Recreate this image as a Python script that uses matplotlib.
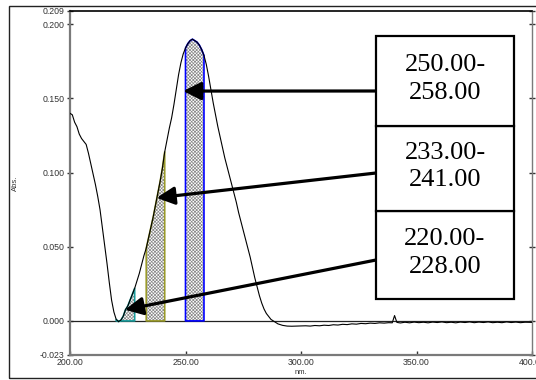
import matplotlib.pyplot as plt
from matplotlib.patches import Rectangle

# Espectro de absorbancia (nm, Abs.)
nm = [200, 201, 202, 203, 204, 205, 206, 207, 208, 209,
      210, 211, 212, 213, 214, 215, 216, 217, 218, 219,
      220, 221, 222, 223, 224, 225, 226, 227, 228, 229,
      230, 231, 232, 233, 234, 235, 236, 237, 238, 239,
      240, 241, 242, 243, 244, 245, 246, 247, 248, 249,
      250, 251, 252, 253, 254, 255, 256, 257, 258, 259,
      260, 261, 262, 263, 264, 265, 266, 267, 268, 269,
      270, 271, 272, 273, 274, 275, 276, 277, 278, 279,
      280, 281, 282, 283, 284, 285, 286, 287, 288, 290,
      292, 294, 296, 298, 300, 302, 304, 306, 308, 310,
      312, 314, 316, 318, 320, 322, 324, 326, 328, 330,
      332, 334, 336, 338, 339.5, 340.5, 341.5, 343, 345, 347,
      349, 351, 353, 355, 357, 359, 361, 363, 365, 367,
      369, 371, 373, 375, 377, 379, 381, 383, 385, 387,
      389, 391, 393, 395, 397, 400]
absorb = [0.140, 0.139, 0.134, 0.131, 0.126, 0.123, 0.121, 0.119, 0.113, 0.106,
          0.099, 0.092, 0.084, 0.075, 0.063, 0.051, 0.039, 0.026, 0.014, 0.006,
          0.001, -0.0005, 0.0005, 0.003, 0.0075, 0.010, 0.014, 0.018, 0.022, 0.027,
          0.032, 0.038, 0.044, 0.049, 0.056, 0.063, 0.070, 0.078, 0.086, 0.094,
          0.103, 0.114, 0.122, 0.130, 0.137, 0.146, 0.156, 0.166, 0.174, 0.180,
          0.184, 0.187, 0.189, 0.190, 0.189, 0.188, 0.186, 0.183, 0.179, 0.173,
          0.165, 0.156, 0.147, 0.139, 0.131, 0.124, 0.117, 0.110, 0.104, 0.098,
          0.092, 0.086, 0.080, 0.073, 0.067, 0.061, 0.055, 0.049, 0.043, 0.036,
          0.029, 0.023, 0.017, 0.012, 0.008, 0.005, 0.003, 0.001, 0.000, -0.002,
          -0.003, -0.0035, -0.0036, -0.0035, -0.0034, -0.0033, -0.0035, -0.0031, -0.0033, -0.0029,
          -0.0031, -0.0026, -0.0028, -0.0023, -0.0025, -0.0020, -0.0022, -0.0017, -0.0019, -0.0015,
          -0.0017, -0.0013, -0.0015, -0.0012, -0.0013, 0.0036, -0.0010, -0.0014, -0.0009, -0.0013,
          -0.0008, -0.0012, -0.0009, -0.0013, -0.0008, -0.0011, -0.0007, -0.0012, -0.0009, -0.0013,
          -0.0008, -0.0011, -0.0007, -0.0012, -0.0008, -0.0011, -0.0007, -0.0012, -0.0009, -0.0012,
          -0.0007, -0.0011, -0.0008, -0.0012, -0.0009, -0.0010]

# Bandas integradas (inicio, fin) y su color de contorno
bandas = [(220.0, 228.0), (233.0, 241.0), (250.0, 258.0)]
colores = ['#1a9c9c', '#9a9a2a', '#0000ff']

# Puntas de las flechas (nm, Abs.) y texto de cada recuadro
puntas = [(223.8, 0.0075), (237.5, 0.083), (249.0, 0.155)]
etiquetas = ['220.00-\n228.00', '233.00-\n241.00', '250.00-\n258.00']

plt.rcParams['font.family'] = ['Liberation Sans', 'DejaVu Sans']
plt.rcParams['hatch.linewidth'] = 0.5

W, H = 536, 380
fig = plt.figure(figsize=(W / 100, H / 100), dpi=100)
ax = fig.add_axes([70 / W, 1 - 355 / H, 462 / W, 344 / H])


def fx(px):
    return px / W


def fy(py):
    return 1 - py / H


# Marco exterior
fig.add_artist(Rectangle((fx(9), fy(378)), 1.2, (378 - 6) / H, fill=False,
                         edgecolor='#222222', linewidth=1.0,
                         transform=fig.transFigure))

# Línea de cero
ax.axhline(0, color='#222222', linewidth=0.9, zorder=2)

# Áreas sombreadas bajo la curva para cada banda
for (lo, hi), c in zip(bandas, colores):
    xs = [x for x in nm if lo <= x <= hi]
    ys = [y for x, y in zip(nm, absorb) if lo <= x <= hi]
    ax.fill_between(xs, 0, ys, facecolor='white', hatch='xxxxxxxxxx',
                    edgecolor='#8a8a8a', linewidth=0, zorder=3)
    ax.fill_between(xs, 0, ys, facecolor='none', edgecolor=c,
                    linewidth=1.2, zorder=4)

# Espectro
ax.plot(nm, absorb, color='black', linewidth=0.8, zorder=5)

ax.set_xlim(200, 400)
ax.set_ylim(-0.023, 0.209)
xt = [200, 250, 300, 350, 400]
yt = [-0.023, 0.0, 0.05, 0.1, 0.15, 0.2, 0.209]
ax.set_xticks(xt)
ax.set_xticklabels([f'{v:.2f}' for v in xt])
ax.set_yticks(yt)
ax.set_yticklabels([f'{v:.3f}' for v in yt])
ax.tick_params(axis='y', direction='inout', length=5, width=1, pad=1.5,
               labelsize=6.3, colors='#333333', right=True)
ax.tick_params(axis='x', direction='in', length=3, width=1, pad=2.5,
               labelsize=6.3, colors='#333333')

for lado in ['left', 'bottom']:
    ax.spines[lado].set_color('#7a7a7a')
    ax.spines[lado].set_linewidth(1.6)
ax.spines['right'].set_color('#7a7a7a')
ax.spines['right'].set_linewidth(1.0)
ax.spines['top'].set_color('black')
ax.spines['top'].set_linewidth(1.2)

fig.text(fx(15), fy(183), 'Abs.', rotation=90, fontsize=5.5,
         ha='center', va='center', color='#333333')
fig.text(fx(301), fy(373), 'nm.', fontsize=5.5, ha='center', va='center',
         color='#333333')

# Recuadros con los intervalos y flechas hacia cada banda
cajas = [(211, 299, 260), (126, 211, 173), (36, 126, 91)]
for (top, bot, ya), txt, punta in zip(cajas, etiquetas, puntas):
    fig.add_artist(Rectangle((fx(376), fy(bot)), fx(514) - fx(376),
                             fy(top) - fy(bot), facecolor='white',
                             edgecolor='black', linewidth=1.6,
                             transform=fig.transFigure, zorder=6))
    fig.text(fx(445), fy((top + bot) / 2 - 2), txt, fontsize=19,
             family='Liberation Serif', ha='center', va='center',
             linespacing=1.35, zorder=7)
    ax.annotate('', xy=punta, xycoords='data',
                xytext=(fx(376), fy(ya)), textcoords='figure fraction',
                arrowprops=dict(arrowstyle='-|>,head_length=0.9,head_width=0.45',
                                mutation_scale=12, lw=2.3, color='black',
                                shrinkA=0, shrinkB=0),
                zorder=8)

plt.savefig('out.png', dpi=100)
